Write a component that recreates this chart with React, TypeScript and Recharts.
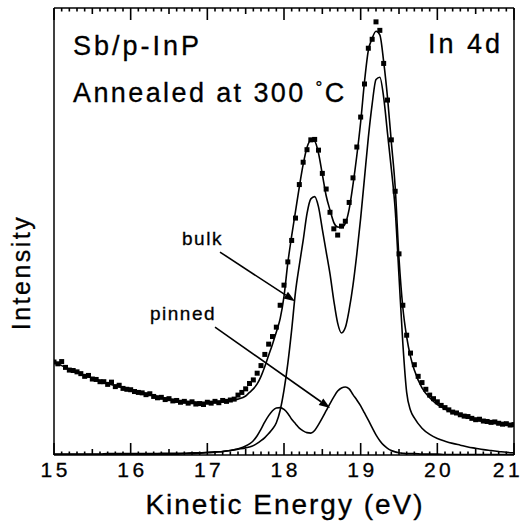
import { ComposedChart, Line, Scatter, XAxis, YAxis, ReferenceDot, ReferenceLine } from 'recharts'

const FONT = '"Liberation Sans", Arial, Helvetica, sans-serif'

// energy grid of the fitted curves (eV), finer across the doublet
const fitEnergy = [
  15.0, 15.1, 15.2, 15.3, 15.4, 15.5, 15.6, 15.7, 15.8, 15.9,
  16.0, 16.1, 16.2, 16.3, 16.4, 16.5, 16.6, 16.7, 16.8, 16.9,
  17.0, 17.1, 17.2, 17.3, 17.4, 17.5, 17.55, 17.6, 17.65, 17.7,
  17.75, 17.8, 17.85, 17.9, 17.95, 18.0, 18.05, 18.1, 18.15, 18.2,
  18.25, 18.3, 18.35, 18.4, 18.45, 18.5, 18.55, 18.6, 18.65, 18.7,
  18.75, 18.8, 18.85, 18.9, 18.95, 19.0, 19.05, 19.1, 19.15, 19.2,
  19.25, 19.3, 19.35, 19.4, 19.45, 19.5, 19.55, 19.6, 19.65, 19.7,
  19.8, 19.9, 20.0, 20.1, 20.2, 20.3, 20.4, 20.5, 20.6, 20.7,
  20.8, 20.9, 21.0,
]

// total fit (background + both components)
const fitTotal = [
  20.8, 20.0, 19.2, 18.5, 17.8, 17.2, 16.6, 16.0, 15.5, 15.0,
  14.5, 14.1, 13.7, 13.3, 12.9, 12.5, 12.2, 12.0, 11.9, 11.8,
  11.8, 11.9, 12.0, 12.2, 12.5, 13.2, 14.0, 14.8, 15.9, 17.6,
  19.8, 22.3, 24.8, 27.5, 30.5, 35.5, 43.0, 49.0, 54.5, 60.0,
  65.0, 68.8, 70.4, 70.2, 67.5, 62.8, 58.0, 54.8, 52.0, 51.0,
  50.9, 51.8, 55.0, 60.5, 67.0, 74.5, 83.5, 90.5, 93.2, 94.8,
  94.0, 88.0, 80.0, 70.0, 60.0, 44.0, 33.0, 26.4, 22.0, 19.0,
  15.0, 12.8, 11.3, 10.3, 9.5, 8.9, 8.4, 7.9, 7.5, 7.2,
  7.0, 6.8, 6.7,
]

// bulk In 4d spin-orbit doublet
const fitBulk = [
  0.2, 0.2, 0.2, 0.2, 0.2, 0.2, 0.2, 0.3, 0.3, 0.3,
  0.3, 0.3, 0.3, 0.3, 0.4, 0.4, 0.4, 0.4, 0.5, 0.5,
  0.6, 0.7, 0.8, 1.0, 1.3, 1.6, 1.8, 2.1, 2.6, 3.2,
  3.9, 4.8, 5.8, 7.2, 10.0, 14.5, 20.5, 28.0, 36.5, 42.5,
  48.0, 54.0, 57.3, 57.8, 55.5, 50.5, 45.5, 40.5, 34.5, 29.5,
  27.3, 28.5, 32.5, 38.0, 45.0, 53.0, 62.0, 71.0, 78.5, 84.0,
  84.5, 80.0, 72.0, 64.0, 55.0, 40.0, 25.0, 14.0, 10.0, 8.3,
  6.0, 4.6, 3.7, 3.1, 2.6, 2.2, 1.8, 1.5, 1.2, 1.0,
  0.8, 0.6, 0.5,
]

// pinned (interface) doublet
const fitPinned = [
  0.1, 0.1, 0.1, 0.1, 0.1, 0.1, 0.1, 0.1, 0.1, 0.1,
  0.1, 0.1, 0.2, 0.2, 0.2, 0.2, 0.2, 0.3, 0.3, 0.4,
  0.5, 0.6, 0.8, 1.0, 1.4, 2.0, 2.5, 3.2, 4.3, 5.8,
  7.4, 8.8, 9.9, 10.5, 10.6, 10.2, 9.3, 8.0, 7.0, 6.0,
  5.4, 5.0, 4.9, 5.5, 6.8, 8.3, 9.9, 11.5, 13.0, 14.3,
  15.0, 15.2, 14.8, 13.5, 12.3, 11.0, 9.4, 7.8, 6.1, 4.5,
  3.2, 2.2, 1.5, 1.0, 0.7, 0.5, 0.4, 0.3, 0.3, 0.3,
  0.2, 0.2, 0.2, 0.1, 0.1, 0.1, 0.1, 0.1, 0.1, 0.1,
  0.1, 0.1, 0.1,
]

// measured spectrum, 15.00 - 21.00 eV in 0.05 eV steps
const scanStart = 15
const scanStep = 0.05
const scanCounts = [
  20.8, 20.4, 20.9, 19.6, 19.0, 18.9, 18.6, 18.2, 17.6, 17.8,
  17.0, 16.9, 16.4, 16.4, 15.8, 16.3, 15.3, 15.6, 14.9, 14.7,
  14.6, 14.2, 14.0, 13.9, 13.5, 13.7, 13.1, 12.8, 12.9, 12.4,
  12.6, 12.1, 12.2, 11.8, 12.0, 11.6, 11.9, 11.4, 11.5, 11.3,
  11.8, 11.6, 12.0, 11.7, 12.2, 12.0, 12.3, 12.5, 13.4, 14.0,
  14.8, 16.0, 16.8, 18.3, 20.0, 22.5, 24.8, 26.5, 28.6, 33.5,
  38.0, 43.2, 48.0, 53.0, 60.5, 65.5, 68.3, 70.5, 70.6, 68.2,
  63.0, 59.5, 54.3, 50.6, 49.2, 51.2, 52.3, 56.5, 62.0, 68.9,
  75.6, 83.0, 91.0, 93.0, 96.9, 95.0, 87.6, 79.4, 70.5, 59.0,
  45.0, 33.5, 26.8, 22.8, 20.2, 17.6, 16.2, 14.7, 13.4, 12.6,
  11.9, 11.1, 10.6, 10.1, 9.6, 9.4, 9.0, 8.7, 8.6, 8.2,
  7.9, 8.0, 7.6, 7.5, 7.3, 7.4, 7.1, 6.9, 7.0, 6.7,
  6.8,
]

const energyDomain = [15, 21]
const majorTicks = [15, 16, 17, 18, 19, 20, 21]
// 0.1 eV minor ticks between the labelled ones
const allTicks = Array.from({ length: 61 }, (_, i) => (150 + i) / 10)

const fitRows = fitEnergy.map((e, i) => ({
  e,
  total: fitTotal[i],
  bulk: fitBulk[i],
  pinned: fitPinned[i],
}))

const scanRows = scanCounts.map((counts, i) => ({
  e: Math.round((scanStart + i * scanStep) * 100) / 100,
  counts,
}))

const CHART_W = 525
const CHART_H = 521
const MARGIN = { top: 7, right: 10, bottom: 36, left: 53 }
const X_AXIS_H = 30
const TOP_AXIS_H = 1
const Y_AXIS_W = 1
// plotting area, shared with the tick overlay
const PLOT_LEFT = MARGIN.left + Y_AXIS_W
const PLOT_W = CHART_W - MARGIN.left - MARGIN.right - 2 * Y_AXIS_W
const PLOT_TOP = MARGIN.top + TOP_AXIS_H
const PLOT_BOTTOM = CHART_H - MARGIN.bottom - X_AXIS_H

function tickLength(v: number) {
  if (majorTicks.includes(v)) return 12
  if (Math.abs(v * 2 - Math.round(v * 2)) < 1e-6) return 6
  return 3.5
}

function energyToX(v: number) {
  return PLOT_LEFT + ((v - energyDomain[0]) / (energyDomain[1] - energyDomain[0])) * PLOT_W
}

// inward ticks on the bottom and top frame edges, drawn as thin filled bars
function InwardTicks() {
  return (
    <svg width={CHART_W} height={CHART_H} style={{ position: 'absolute', left: 0, top: 0, pointerEvents: 'none' }}>
      {allTicks.map((v) => {
        const x = energyToX(v)
        const len = tickLength(v)
        return (
          <g key={v}>
            <rect x={x - 0.8} y={PLOT_BOTTOM - len} width={1.6} height={len} fill="#000" />
            <rect x={x - 0.8} y={PLOT_TOP} width={1.6} height={len} fill="#000" />
          </g>
        )
      })}
    </svg>
  )
}

function EnergyLabel(props: any) {
  const { x, y, payload } = props
  const v = Number(payload?.value)
  if (!majorTicks.includes(v)) return null
  return (
    <text x={Math.min(x + 1.75, 508)} y={y + 22} textAnchor="middle" fontSize={21} letterSpacing={3.5} fontFamily={FONT} fill="#000" stroke="#000" strokeWidth={0.3}>
      {v}
    </text>
  )
}

function XTitle(props: any) {
  const vb = props.viewBox || {}
  return (
    <text x={vb.x + vb.width / 2 + 1} y={vb.y + 59} textAnchor="middle" fontSize={28} letterSpacing={2} fontFamily={FONT} fill="#000" stroke="#000" strokeWidth={0.3}>
      Kinetic Energy (eV)
    </text>
  )
}

function YTitle(props: any) {
  const vb = props.viewBox || {}
  const cx = vb.x + vb.width - 24
  const cy = vb.y + vb.height / 2 + 41
  return (
    <text x={cx} y={cy} transform={`rotate(-90, ${cx}, ${cy})`} textAnchor="middle" fontSize={25} letterSpacing={2.5} fontFamily={FONT} fill="#000" stroke="#000" strokeWidth={0.3}>
      Intensity
    </text>
  )
}

function SquareMark(props: any) {
  const { cx, cy } = props
  if (cx == null || cy == null) return null
  return <rect x={cx - 2.5} y={cy - 2.5} width={5} height={5} fill="#000" />
}

function Arrow(props: any) {
  const { x1, y1, x2, y2 } = props
  const a = Math.atan2(y2 - y1, x2 - x1)
  const head = 11
  const half = 4
  const bx = x2 - head * Math.cos(a)
  const by = y2 - head * Math.sin(a)
  const px = -Math.sin(a) * half
  const py = Math.cos(a) * half
  return (
    <g>
      <line x1={x1} y1={y1} x2={bx} y2={by} stroke="#000" strokeWidth={1.6} />
      <polygon points={`${x2},${y2} ${bx + px},${by + py} ${bx - px},${by - py}`} fill="#000" />
    </g>
  )
}

function note(text: any, size: number, spacing: number, anchor: 'start' | 'end' = 'start') {
  return (p: any) => (
    <text x={p.cx} y={p.cy} textAnchor={anchor} fontSize={size} letterSpacing={spacing} fontFamily={FONT} fill="#000" stroke="#000" strokeWidth={0.3}>
      {text}
    </text>
  )
}

const frame = { stroke: '#000', strokeWidth: 1.5 }

export default function App() {
  return (
    <div style={{ position: 'absolute', left: 0, top: 0, width: CHART_W, height: CHART_H, background: '#fff' }}>
      <ComposedChart width={CHART_W} height={CHART_H} data={fitRows} margin={MARGIN}>
        <XAxis
          dataKey="e"
          type="number"
          domain={energyDomain}
          ticks={allTicks}
          interval={0}
          height={X_AXIS_H}
          tickSize={0}
          tickMargin={0}
          tickLine={false}
          axisLine={frame}
          tick={<EnergyLabel />}
          label={<XTitle />}
          allowDataOverflow
        />
        <XAxis xAxisId="top" dataKey="e" orientation="top" type="number" domain={energyDomain} height={TOP_AXIS_H} tick={false} tickLine={false} axisLine={frame} allowDataOverflow />
        <YAxis type="number" domain={[0, 100]} width={Y_AXIS_W} tick={false} tickLine={false} axisLine={frame} label={<YTitle />} allowDataOverflow />
        <YAxis yAxisId="right" orientation="right" type="number" domain={[0, 100]} width={Y_AXIS_W} tick={false} tickLine={false} axisLine={frame} />

        <Line dataKey="pinned" type="monotone" dot={false} stroke="#000" strokeWidth={1.6} isAnimationActive={false} />
        <Line dataKey="bulk" type="monotone" dot={false} stroke="#000" strokeWidth={1.6} isAnimationActive={false} />
        <Line dataKey="total" type="monotone" dot={false} stroke="#000" strokeWidth={1.6} isAnimationActive={false} />
        <Scatter data={scanRows} dataKey="counts" shape={<SquareMark />} isAnimationActive={false} />

        <ReferenceDot x={15.248} y={89.4} shape={note('Sb/p-InP', 27, 3)} />
        <ReferenceDot
          x={15.248}
          y={78.9}
          shape={note(
            <>
              Annealed at 300 <tspan fontSize={17} dy={-9}>°</tspan>
              <tspan dy={9}>C</tspan>
            </>,
            27,
            2.4,
          )}
        />
        <ReferenceDot x={20.856} y={89.85} shape={note('In 4d', 27, 3, 'end')} />
        <ReferenceDot x={16.67} y={46.9} shape={note('bulk', 19, 1.5)} />
        <ReferenceDot x={16.252} y={30.2} shape={note('pinned', 19, 1.5)} />
        <ReferenceLine segment={[{ x: 17.165, y: 45.4 }, { x: 18.143, y: 34.4 }]} shape={<Arrow />} />
        <ReferenceLine segment={[{ x: 17.1, y: 28.6 }, { x: 18.6, y: 10.5 }]} shape={<Arrow />} />
      </ComposedChart>
      <InwardTicks />
    </div>
  )
}
